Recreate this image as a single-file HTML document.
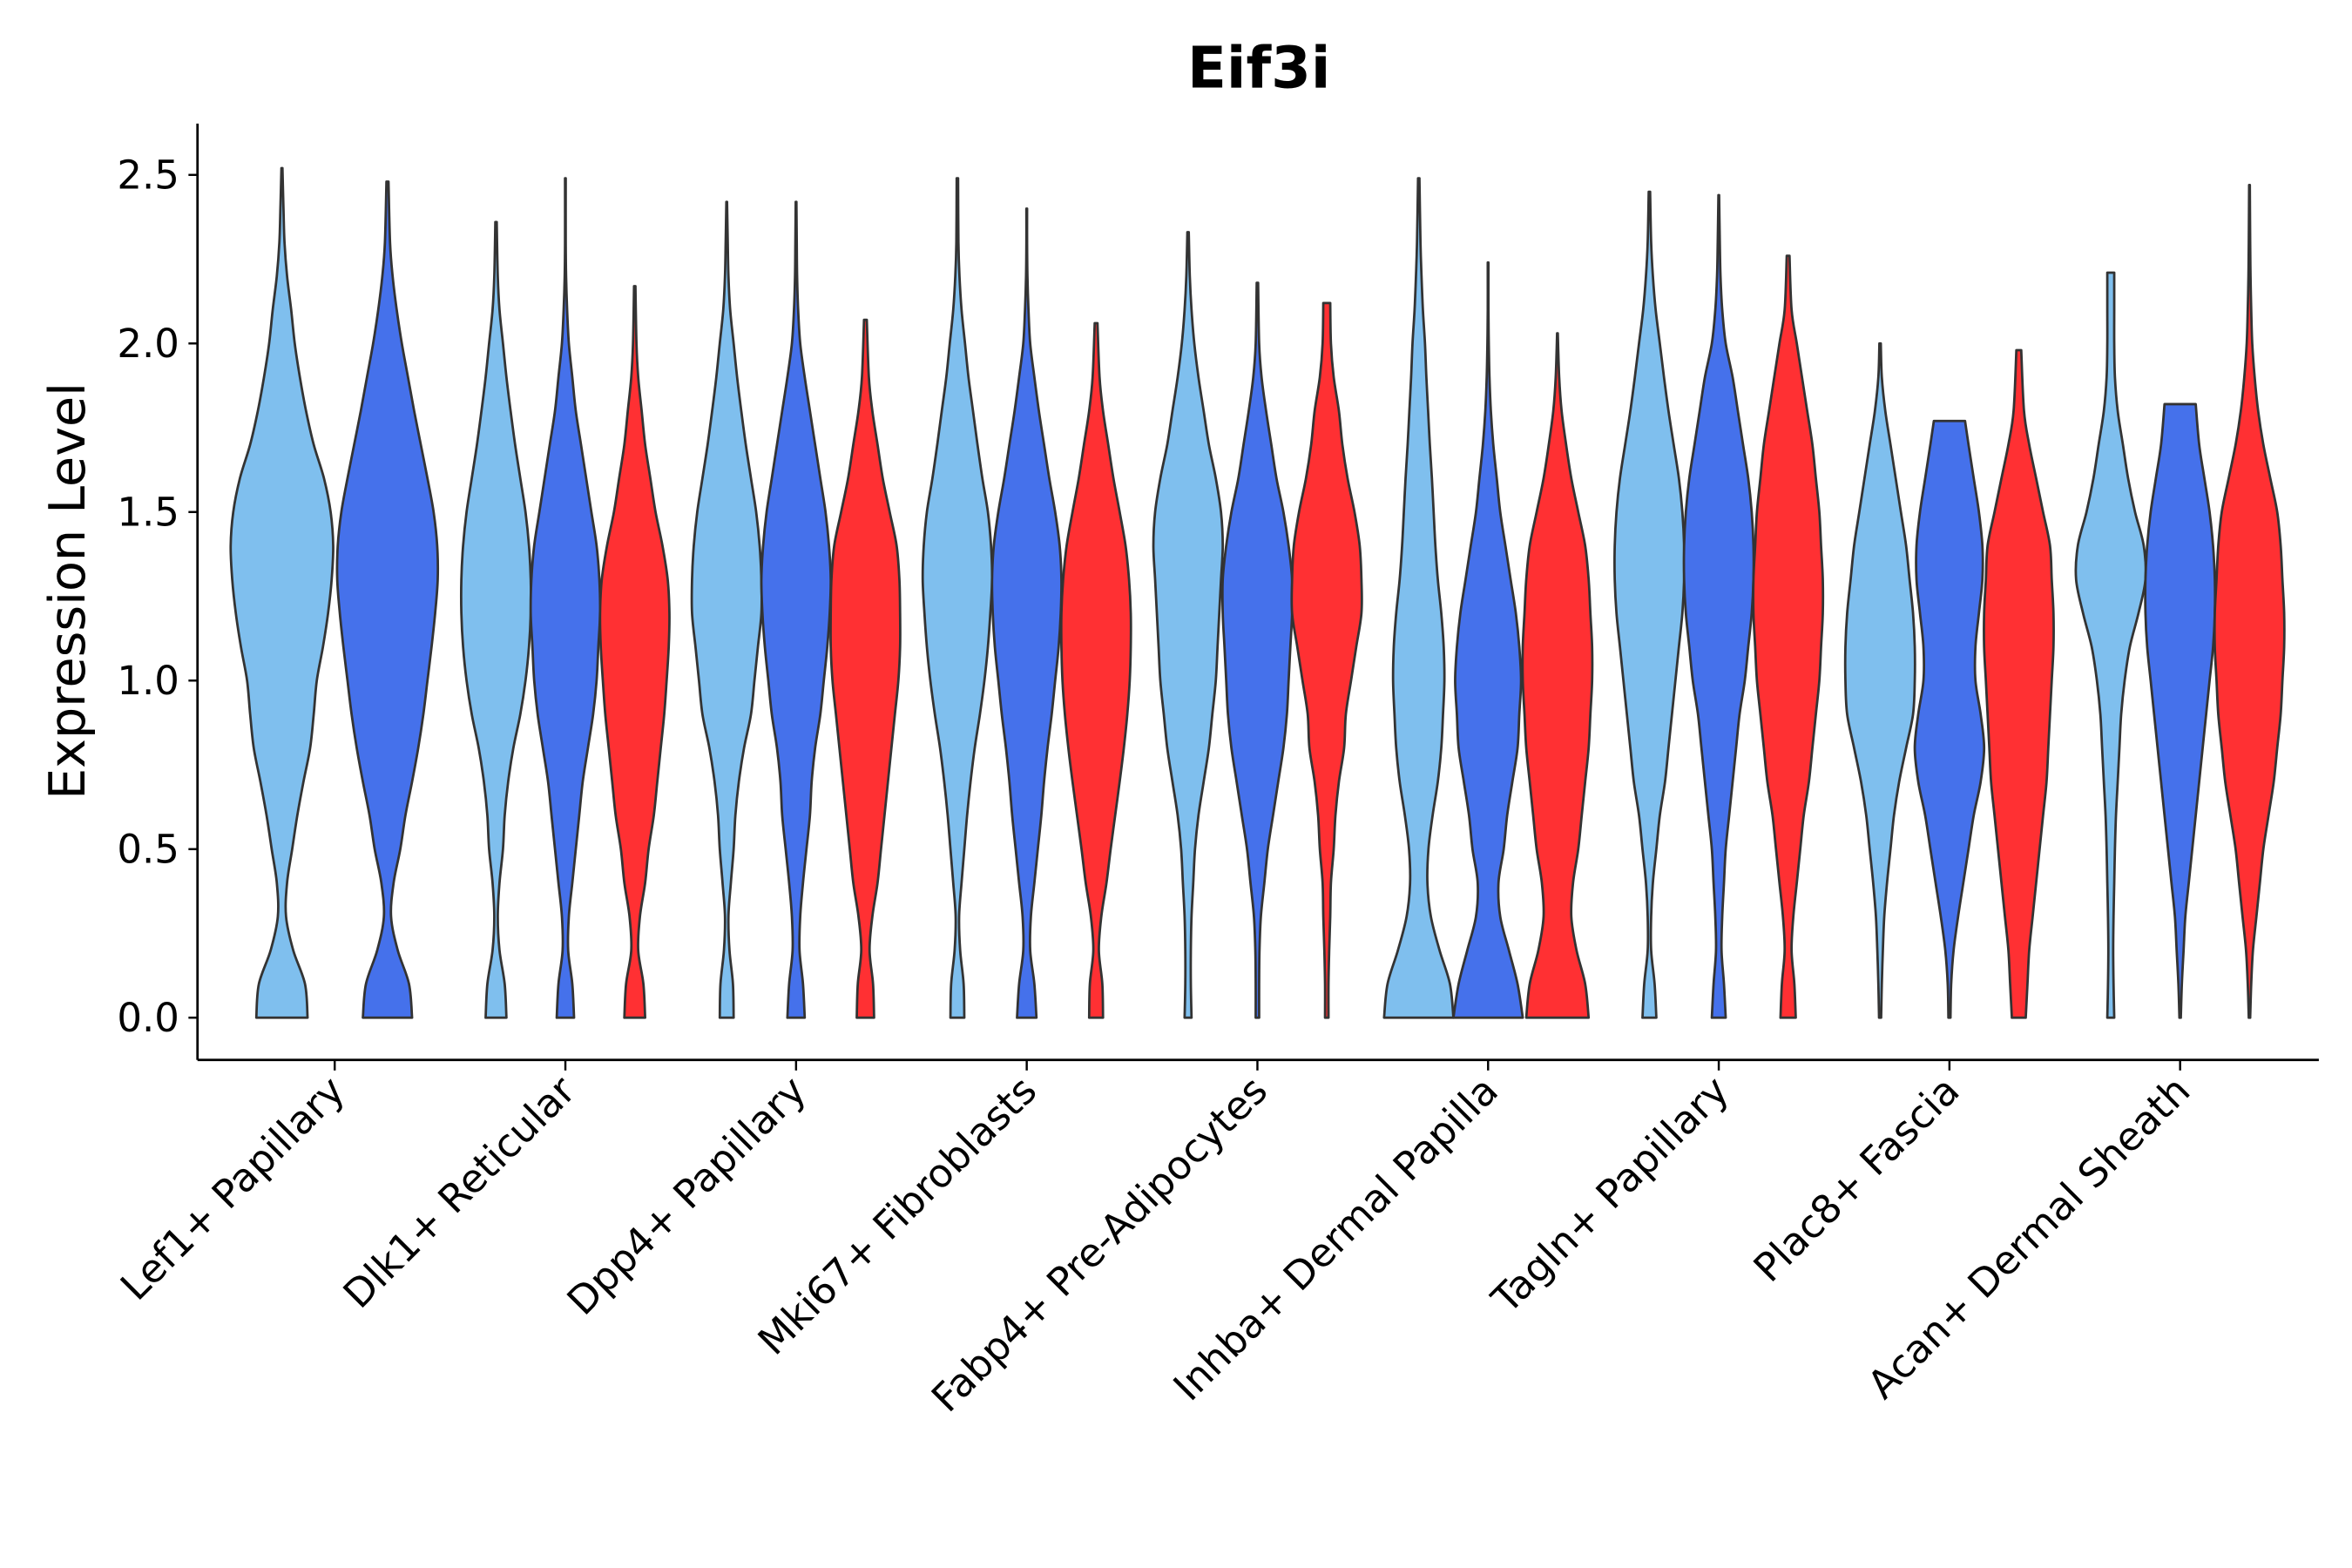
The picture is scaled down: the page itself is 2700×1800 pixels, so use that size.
<!DOCTYPE html>
<html><head><meta charset="utf-8"><style>
html,body{margin:0;padding:0;background:#fff;}
svg{display:block;font-family:"DejaVu Sans","Liberation Sans",sans-serif;}
</style></head><body>
<svg id="chart" width="2700" height="1800" viewBox="0 0 1560 1040" xmlns="http://www.w3.org/2000/svg">
<rect width="1560" height="1040" fill="#fff"/>
<text x="835" y="58" font-size="38" font-weight="bold" text-anchor="middle">Eif3i</text>
<text transform="translate(56,392) rotate(-90)" font-size="33" text-anchor="middle">Expression Level</text>
<g id="marks"></g>
<g id="axes"></g>
</svg>
<script>
const categories = ["Lef1+ Papillary","Dlk1+ Reticular","Dpp4+ Papillary","Mki67+ Fibroblasts","Fabp4+ Pre-Adipocytes","Inhba+ Dermal Papilla","Tagln+ Papillary","Plac8+ Fascia","Acan+ Dermal Sheath"];
const yTicks = [0,0.5,1.0,1.5,2.0,2.5];
const yTickLabels = ["0.0","0.5","1.0","1.5","2.0","2.5"];
const groups = ["g1","g2","g3"];
const groupColors = {g1:"#7fbfee",g2:"#4571eb",g3:"#ff3033"};
const tops = [
 [2.52,2.48,null],
 [2.36,2.49,2.17],
 [2.42,2.42,2.07],
 [2.49,2.40,2.06],
 [2.33,2.18,2.12],
 [2.49,2.24,2.03],
 [2.45,2.44,2.26],
 [2.00,1.77,1.98],
 [2.21,1.82,2.47]
];
const densities = [
 [[0.5,0.45,0.22,0.08,0.1,0.2,0.3,0.42,0.55,0.62,0.68,0.8,0.9,0.97,1.0,0.95,0.82,0.62,0.47,0.35,0.25,0.18,0.1,0.05,0.03,0.01],
  [0.48,0.42,0.2,0.07,0.12,0.25,0.35,0.48,0.6,0.7,0.78,0.86,0.93,0.98,0.97,0.9,0.78,0.65,0.52,0.4,0.28,0.18,0.1,0.05,0.02],null],
 [[0.3,0.25,0.1,0.05,0.1,0.2,0.25,0.35,0.5,0.7,0.85,0.95,1,1,0.95,0.85,0.7,0.55,0.42,0.3,0.2,0.1,0.05,0.02],
  [0.25,0.2,0.08,0.1,0.2,0.3,0.4,0.5,0.65,0.8,0.9,0.95,1,0.98,0.9,0.75,0.6,0.45,0.3,0.2,0.1,0.05,0.02,0.01,0.01],
  [0.3,0.25,0.1,0.15,0.3,0.4,0.55,0.65,0.75,0.85,0.92,0.98,1,0.95,0.8,0.6,0.45,0.3,0.2,0.1,0.05,0.02]],
 [[0.2,0.18,0.08,0.05,0.12,0.2,0.25,0.35,0.5,0.7,0.8,0.9,1,1,0.95,0.85,0.7,0.55,0.42,0.3,0.2,0.1,0.05,0.03,0.01],
  [0.25,0.2,0.1,0.12,0.2,0.3,0.4,0.45,0.55,0.7,0.8,0.9,0.97,1,0.95,0.85,0.7,0.55,0.4,0.25,0.12,0.06,0.03,0.02,0.01],
  [0.25,0.22,0.12,0.2,0.35,0.45,0.55,0.65,0.75,0.85,0.95,1,1,0.98,0.9,0.7,0.5,0.35,0.2,0.1,0.04]],
 [[0.2,0.18,0.08,0.05,0.12,0.2,0.28,0.38,0.5,0.65,0.78,0.88,0.95,1,0.97,0.88,0.72,0.58,0.45,0.32,0.22,0.12,0.06,0.03,0.02],
  [0.28,0.22,0.1,0.12,0.22,0.32,0.42,0.5,0.6,0.72,0.82,0.92,0.98,1,0.95,0.82,0.65,0.5,0.35,0.22,0.1,0.05,0.02,0.01,0.01],
  [0.2,0.18,0.08,0.15,0.3,0.42,0.55,0.68,0.8,0.9,0.97,1,1,0.95,0.85,0.68,0.5,0.35,0.2,0.1,0.04]],
 [[0.1,0.08,0.08,0.1,0.15,0.2,0.3,0.45,0.6,0.7,0.8,0.85,0.9,0.95,1,0.95,0.8,0.6,0.45,0.3,0.18,0.1,0.05,0.02],
  [0.05,0.05,0.06,0.1,0.2,0.3,0.45,0.6,0.75,0.85,0.9,0.95,1,1,0.9,0.75,0.55,0.4,0.25,0.12,0.05,0.02],
  [0.05,0.05,0.07,0.1,0.12,0.2,0.25,0.35,0.5,0.55,0.7,0.85,1,1,0.95,0.8,0.6,0.45,0.35,0.2,0.12,0.1]],
 [[1.0,0.9,0.6,0.35,0.25,0.28,0.4,0.55,0.65,0.7,0.74,0.72,0.65,0.55,0.48,0.43,0.38,0.32,0.27,0.22,0.18,0.12,0.08,0.05,0.02],
  [1.0,0.85,0.6,0.35,0.3,0.45,0.55,0.7,0.85,0.9,0.95,0.9,0.8,0.65,0.5,0.35,0.25,0.15,0.08,0.04,0.02,0.01,0.01],
  [0.9,0.8,0.55,0.4,0.45,0.6,0.7,0.8,0.9,0.95,1,1,0.95,0.9,0.8,0.6,0.4,0.25,0.12,0.05,0.01]],
 [[0.2,0.15,0.05,0.05,0.1,0.2,0.3,0.45,0.55,0.65,0.75,0.85,0.95,1,1,0.95,0.85,0.7,0.55,0.42,0.3,0.18,0.1,0.05,0.02],
  [0.2,0.15,0.08,0.1,0.15,0.2,0.3,0.4,0.5,0.6,0.75,0.85,0.95,1,1,0.95,0.85,0.7,0.55,0.4,0.2,0.1,0.05,0.03,0.01],
  [0.22,0.18,0.1,0.15,0.25,0.35,0.45,0.6,0.7,0.8,0.9,0.95,1,1,0.95,0.9,0.8,0.7,0.55,0.4,0.25,0.1,0.04]],
 [[0.03,0.05,0.08,0.12,0.2,0.3,0.4,0.55,0.75,0.95,1,1,0.95,0.85,0.75,0.6,0.45,0.3,0.15,0.05,0.02],
  [0.03,0.05,0.12,0.25,0.4,0.55,0.7,0.9,1,0.9,0.75,0.75,0.85,0.95,0.95,0.85,0.7,0.55,0.45],
  [0.2,0.25,0.3,0.4,0.5,0.6,0.7,0.8,0.85,0.9,0.95,1,1,0.95,0.9,0.7,0.5,0.3,0.15,0.07]],
 [[0.1,0.08,0.07,0.08,0.1,0.12,0.15,0.2,0.25,0.3,0.4,0.55,0.8,1,0.95,0.7,0.5,0.35,0.2,0.12,0.1,0.1,0.1],
  [0.02,0.05,0.1,0.15,0.25,0.35,0.45,0.55,0.65,0.75,0.85,0.95,1,1,0.95,0.85,0.7,0.55,0.45],
  [0.02,0.05,0.1,0.2,0.3,0.4,0.55,0.7,0.8,0.9,0.95,1,1,0.95,0.9,0.8,0.6,0.4,0.25,0.15,0.08,0.05,0.03,0.02,0.01]]
];

const NS="http://www.w3.org/2000/svg";
const plot={left:131,right:1538,top:82,bottom:703};
const y0px=675, unitPx=223.6;
function yScale(v){return y0px - v*unitPx;}
const catStart=222, catStep=153;
function xScale(i){return catStart + i*catStep;}
const marks=document.getElementById('marks');
const axes=document.getElementById('axes');
function el(tag,attrs,parent){const e=document.createElementNS(NS,tag);for(const k in attrs)e.setAttribute(k,attrs[k]);parent.appendChild(e);return e;}

function smoothPath(pts){
  let d="M"+pts[0][0].toFixed(2)+","+pts[0][1].toFixed(2);
  for(let i=0;i<pts.length-1;i++){
    const p0=pts[Math.max(0,i-1)],p1=pts[i],p2=pts[i+1],p3=pts[Math.min(pts.length-1,i+2)];
    const c1=[p1[0]+(p2[0]-p0[0])/6,p1[1]+(p2[1]-p0[1])/6];
    const c2=[p2[0]-(p3[0]-p1[0])/6,p2[1]-(p3[1]-p1[1])/6];
    d+=" C"+c1[0].toFixed(2)+","+c1[1].toFixed(2)+" "+c2[0].toFixed(2)+","+c2[1].toFixed(2)+" "+p2[0].toFixed(2)+","+p2[1].toFixed(2);
  }
  return d;
}

categories.forEach((c,ci)=>{
  const present=groups.map((g,gi)=>tops[ci][gi]!=null);
  const n=present.filter(x=>x).length;
  const offsets = n===2 ? [-35,35] : [-46,0,46];
  const halfMax = n===2 ? 34 : 23;
  let k=0;
  groups.forEach((g,gi)=>{
    if(!present[gi]) return;
    const cx=xScale(ci)+offsets[k]; k++;
    const top=tops[ci][gi], dens=densities[ci][gi];
    const levels=[];
    for(let i=0;i<dens.length;i++){
      let v=i*0.1; if(v>=top||i===dens.length-1) v=top;
      levels.push([v,dens[i]]);
      if(v===top) break;
    }
    const right=levels.map(([v,d])=>[cx+d*halfMax,yScale(v)]);
    const left=levels.slice().reverse().map(([v,d])=>[cx-d*halfMax,yScale(v)]);
    let d=smoothPath(right);
    d+=" L"+left[0][0].toFixed(2)+","+left[0][1].toFixed(2);
    d+=smoothPath(left).replace(/^M[^ C]+/,"");
    d+=" Z";
    const p=el('path',{d:d,fill:groupColors[g],stroke:"#333",'stroke-width':1.6,'stroke-linejoin':'round'},marks);
    
    
  });
});

const ya=el('line',{x1:plot.left,y1:plot.top,x2:plot.left,y2:plot.bottom,stroke:'#000','stroke-width':1.6},axes);


const xa=el('line',{x1:plot.left,y1:plot.bottom,x2:plot.right,y2:plot.bottom,stroke:'#000','stroke-width':1.6},axes);


yTicks.forEach((t,i)=>{
  const y=yScale(t);
  const tk=el('line',{x1:plot.left-6,y1:y,x2:plot.left,y2:y,stroke:'#000','stroke-width':1.4},axes);
  
  
  const tx=el('text',{x:plot.left-12,y:y+9,'font-size':26,'text-anchor':'end'},axes);
  tx.textContent=yTickLabels[i];
  
  
});
categories.forEach((c,i)=>{
  const x=xScale(i);
  const tk=el('line',{x1:x,y1:plot.bottom,x2:x,y2:plot.bottom+7,stroke:'#000','stroke-width':1.4},axes);
  
  
  const tx=el('text',{transform:'translate('+(x+8)+','+(plot.bottom+22)+') rotate(-45)','font-size':26,'text-anchor':'end'},axes);
  tx.textContent=c;
  
  
});
</script>
</body></html>
